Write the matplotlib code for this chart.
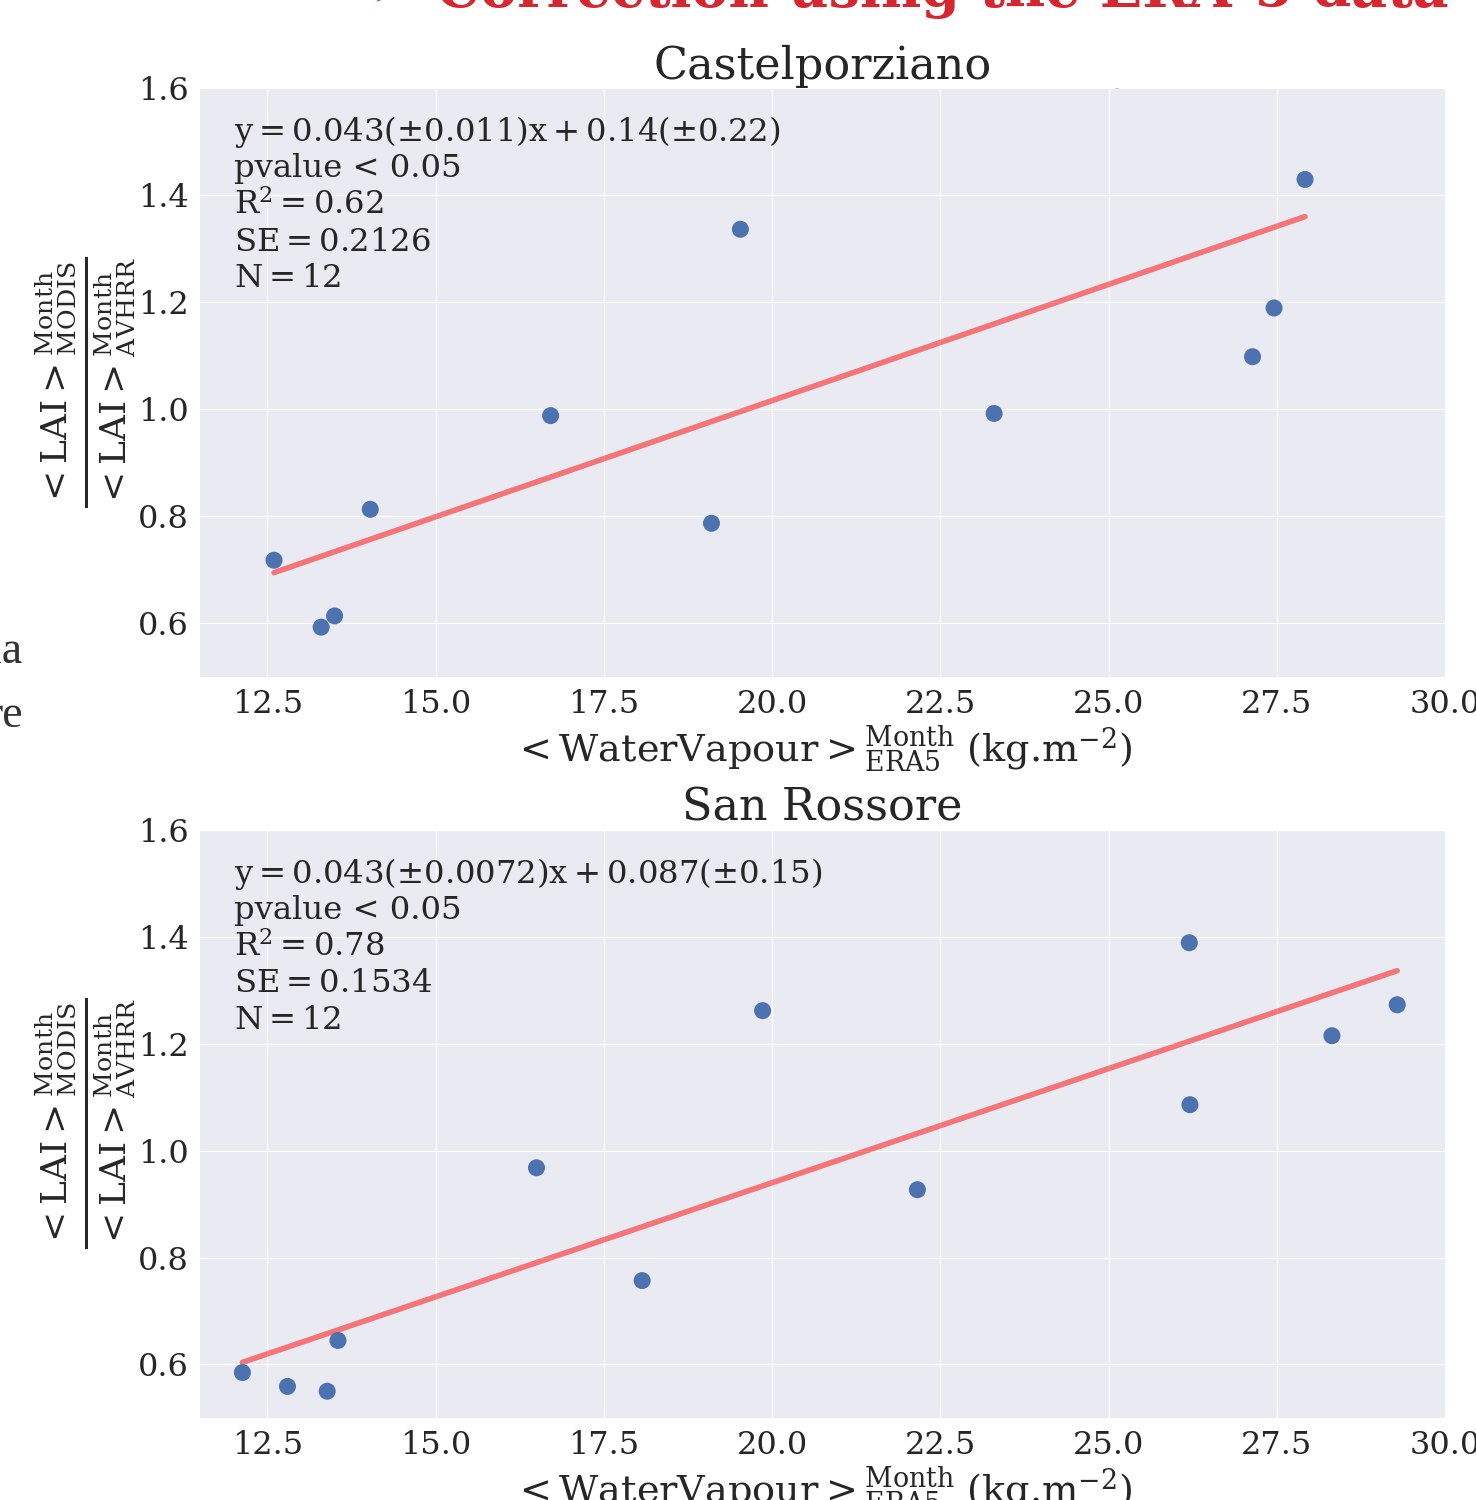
import numpy as np
import matplotlib
matplotlib.use("Agg")
import matplotlib.pyplot as plt

# Castelporziano
castel_wv = [12.60, 13.30, 13.50, 14.03, 16.71, 19.10, 19.53, 23.30, 25.13, 27.14, 27.46, 27.92]
castel_lai = [0.718, 0.593, 0.614, 0.813, 0.988, 0.787, 1.336, 0.992, 1.615, 1.098, 1.189, 1.429]
castel_fit = (0.0434, 0.148)
castel_stats = [r"$\mathrm{y = 0.043(\pm 0.011)x + 0.14(\pm 0.22)}$",
                "pvalue < 0.05", r"$\mathrm{R^2 = 0.62}$",
                r"$\mathrm{SE = 0.2126}$", r"$\mathrm{N = 12}$"]

# San Rossore
rossore_wv = [12.13, 12.80, 13.39, 13.55, 16.50, 18.07, 19.86, 22.16, 26.20, 26.21, 28.32, 29.29]
rossore_lai = [0.585, 0.559, 0.550, 0.645, 0.968, 0.757, 1.262, 0.927, 1.389, 1.086, 1.215, 1.273]
rossore_fit = (0.0427, 0.086)
rossore_stats = [r"$\mathrm{y = 0.043(\pm 0.0072)x + 0.087(\pm 0.15)}$",
                 "pvalue < 0.05", r"$\mathrm{R^2 = 0.78}$",
                 r"$\mathrm{SE = 0.1534}$", r"$\mathrm{N = 12}$"]

plt.style.use("seaborn-v0_8-darkgrid")
plt.rcParams["font.family"] = ["DejaVu Serif", "DejaVu Sans"]
plt.rcParams["mathtext.fontset"] = "dejavuserif"

ylab = (r"$\frac{<\mathrm{LAI}>^{\mathrm{Month}}_{\mathrm{MODIS}}}"
        r"{<\mathrm{LAI}>^{\mathrm{Month}}_{\mathrm{AVHRR}}}$")
xlab = r"$<\mathrm{WaterVapour}>^{\mathrm{Month}}_{\mathrm{ERA5}}$ (kg.m$^{-2}$)"

fig = plt.figure(figsize=(14.76, 15), dpi=100)
ax1 = fig.add_axes([0.1355, 0.5487, 0.8435, 0.3927])
ax2 = fig.add_axes([0.1355, 0.0547, 0.8435, 0.3920])


def draw_panel(ax, wv, lai, fit, stats, title):
    wv = np.array(wv)
    ax.scatter(wv, lai, s=150, color="#4C72B0", edgecolor="none", zorder=3)
    xs = np.array([wv.min(), wv.max()])
    ax.plot(xs, fit[0] * xs + fit[1], color="red", alpha=0.5, lw=4, zorder=2)
    ax.set_xlim(11.5, 30.0)
    ax.set_ylim(0.5, 1.6)
    ax.set_xticks(np.arange(12.5, 30.01, 2.5))
    ax.set_yticks([0.6, 0.8, 1.0, 1.2, 1.4, 1.6])
    ax.tick_params(labelsize=23, colors="#262626")
    ax.tick_params(axis="x", pad=9)
    ax.tick_params(axis="y", pad=8)
    ax.set_title(title, fontsize=32, color="#262626", pad=6)
    ax.set_xlabel(xlab, fontsize=27.5, color="#262626", labelpad=3)
    ax.set_ylabel(ylab, fontsize=37, color="#262626", labelpad=0)
    for i, line in enumerate(stats):
        ax.text(0.027, 0.910 - 0.0621 * i, line, transform=ax.transAxes,
                fontsize=23.2, va="baseline", ha="left", color="#262626")


draw_panel(ax1, castel_wv, castel_lai, castel_fit, castel_stats, "Castelporziano")
draw_panel(ax2, rossore_wv, rossore_lai, rossore_fit, rossore_stats, "San Rossore")

# bits of the surrounding slide that fall inside the crop
fig.text(0.2510, 0.9955, "\u27a2 Correction using the ERA-5 data", fontsize=40,
         color="#D7262F", fontweight="bold", va="baseline", ha="left",
         family=["DejaVu Serif", "DejaVu Sans"])
fig.text(0.0152, 0.558, "ia", fontsize=33, color="#333333", ha="right", va="baseline",
         family="Liberation Serif")
fig.text(0.0152, 0.5153, "re", fontsize=33, color="#333333", ha="right", va="baseline",
         family="Liberation Serif")

fig.savefig("out.png", dpi=100)
